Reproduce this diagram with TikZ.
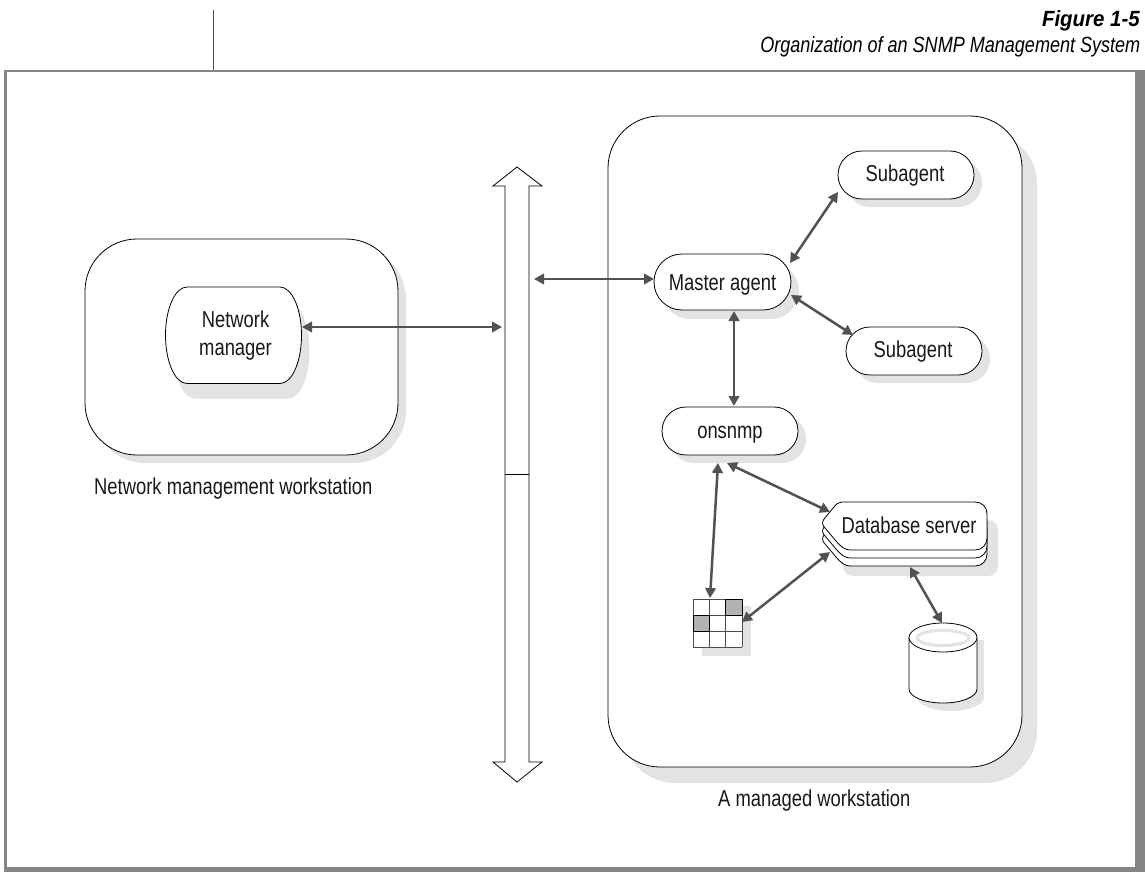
\documentclass[tikz,border=0pt]{standalone}
\usepackage{fontspec}
\setmainfont[FakeStretch=0.8]{Liberation Sans}
\newfontfamily\figfont[FakeStretch=0.93]{Liberation Sans}
\newfontfamily\titfont[FakeStretch=0.82]{Liberation Sans}
\usetikzlibrary{arrows.meta}
\definecolor{shadowc}{gray}{0.89}
\definecolor{linkc}{gray}{0.32}
\definecolor{framec}{gray}{0.52}
\definecolor{cellc}{gray}{0.7}
\tikzset{
  x=1pt,y=-1pt,
  outline/.style={draw=black,line width=0.8pt,fill=white},
  shadowfill/.style={fill=shadowc,draw=none},
  link/.style={draw=linkc,line width=2.5pt,{Triangle[length=10pt,width=10.5pt]}-{Triangle[length=10pt,width=10.5pt]}},
  lbl/.style={font=\fontsize{23}{28}\selectfont,inner sep=0pt,align=center,text=black!90,anchor=base},
  lblw/.style={lbl,anchor=base west},
}
\newcommand{\pill}[8]{% name,x0,y0,x1,y1,radius,shadow dx,dy
  \fill[shadowfill,rounded corners=#6pt] (#2+#7,#3+#8) rectangle (#4+#7,#5+#8);
  \draw[outline,rounded corners=#6pt] (#2,#3) rectangle (#4,#5);
  \coordinate (#1) at ({(#2+#4)/2},{(#3+#5)/2});
}
\newcommand{\blobpath}{(187,287) -- (280,287) .. controls (291.9,287) and (301.5,308.6) .. (301.5,335.25) .. controls (301.5,361.9) and (291.9,383.5) .. (280,383.5) -- (187,383.5) .. controls (175.1,383.5) and (165.5,361.9) .. (165.5,335.25) .. controls (165.5,308.6) and (175.1,287) .. (187,287) -- cycle}
\newcommand{\dblayer}[1]{(842,{502+#1}) -- (975,{502+#1}) .. controls (982,{502+#1}) and (987,{507+#1}) .. (987,{514+#1}) -- (987,{538+#1}) .. controls (987,{545+#1}) and (982,{550+#1}) .. (975,{550+#1}) -- (850,{550+#1}) .. controls (845,{550+#1}) and (840,{546+#1}) .. (836,{541+#1}) -- (825,{528+#1}) .. controls (822,{525+#1}) and (822,{522+#1}) .. (824,{519+#1}) -- (834,{507+#1}) .. controls (836,{504+#1}) and (839,{502+#1}) .. (842,{502+#1}) -- cycle}
\begin{document}
\begin{tikzpicture}
\useasboundingbox (0,0) rectangle (1145,872);
% frame
\fill[framec] (4.3,69.7) rectangle (1145,72.5);
\fill[framec] (4.3,69.7) rectangle (7.3,872);
\fill[framec] (1135,69.7) rectangle (1145,872);
\fill[framec] (4.3,867) rectangle (1145,872);
\coordinate (tickt) at (213.5,10);
\coordinate (tickb) at (213.5,70);
\draw[linkc,line width=1pt] (tickt) -- (tickb);
% caption
\node[anchor=base east,inner sep=0pt,font=\figfont\fontsize{22}{26}\selectfont\bfseries\itshape] (figno) at (1140,26.5) {Figure 1-5};
\node[anchor=base east,inner sep=0pt,font=\titfont\fontsize{22}{26}\selectfont\itshape] (figtitle) at (1140.5,52.5) {Organization of an SNMP Management System};
% big boxes
\pill{mgrbox}{85}{239}{398}{455}{52}{8}{8}
\pill{agentbox}{608}{116}{1022}{767}{52}{15}{16}
% bus arrow
\draw[outline] (505,186) -- (493,186) -- (517,167) -- (542,186) -- (529,186) -- (529,762) -- (542,762) -- (517,782) -- (493,762) -- (505,762) -- cycle;
\coordinate (busl) at (505,474);
\coordinate (busr) at (529,474);
\draw[draw=black,line width=0.8pt] (busl) -- (busr);
% nodes
\begin{scope}[shift={(8,15)}]
\fill[shadowfill] \blobpath;
\end{scope}
\draw[outline] \blobpath;
\node[lbl] (netmgrt) at (235.5,355) {Network\\manager};
\pill{master}{654}{254}{791}{310}{27.9}{8}{9}
\node[lbl] (mastert) at (722.5,290) {Master agent};
\pill{sub1}{838}{151}{974}{199}{23.9}{8}{8}
\node[lbl] (sub1t) at (905,181) {Subagent};
\pill{sub2}{846}{327}{982}{375}{23.9}{8}{8}
\node[lbl] (sub2t) at (913,357) {Subagent};
\pill{ons}{662}{407}{798}{455}{23.9}{8}{8}
\node[lbl] (onst) at (730,438) {onsnmp};
% database server stack
\fill[shadowfill,rounded corners=10pt] (843,520) -- (998,520) -- (998,576) -- (843,576) -- cycle;
\draw[outline] \dblayer{16};
\draw[outline] \dblayer{8};
\draw[outline] \dblayer{0};
\node[lbl] (dbt) at (909,533) {Database server};
% grid
\fill[shadowc] (702,606) rectangle (751,656);
\fill[white] (693,599) rectangle (742,647);
\fill[cellc] (725.7,599) rectangle (742,615);
\fill[cellc] (693,615) rectangle (709.3,631);
\foreach \xx in {693,709.3,725.7,742}{\draw[black!70,line width=0.8pt] (\xx,599) -- (\xx,647);}
\foreach \yy in {599,615,631,647}{\draw[black!70,line width=0.8pt] (693,\yy) -- (742,\yy);}
\draw[black,line width=0.9pt] (725.7,599) rectangle (742,615);
\draw[black,line width=0.9pt] (693,615) rectangle (709.3,631);
% disk
\fill[shadowc] (917,640) rectangle (984,697);
\fill[shadowc] (917,697) arc[start angle=180,end angle=360,x radius=33.5,y radius=-14];
\draw[outline] (909,637.5) -- (909,689) arc[start angle=180,end angle=360,x radius=34,y radius=-14] -- (977,637.5);
\draw[outline] (943,637.5) ellipse[x radius=34,y radius=14.5];
\draw[shadowc,line width=3pt] (943,638) ellipse[x radius=26,y radius=7.5];
% link ends
\coordinate (a1) at (302,327); \coordinate (a2) at (502,327);
\coordinate (b1) at (534,279); \coordinate (b2) at (654,279);
\coordinate (c1) at (790,263); \coordinate (c2) at (838,192);
\coordinate (d1) at (791,295); \coordinate (d2) at (853,335);
\coordinate (e1) at (734,311); \coordinate (e2) at (734,406);
\coordinate (f1) at (718,463); \coordinate (f2) at (710,598);
\coordinate (g1) at (727,463); \coordinate (g2) at (830,512);
\coordinate (h1) at (742,622); \coordinate (h2) at (830,552);
\coordinate (i1) at (910,567); \coordinate (i2) at (942,623);
\draw[link] (a1) -- (a2);
\draw[link] (b1) -- (b2);
\draw[link] (c1) -- (c2);
\draw[link] (d1) -- (d2);
\draw[link] (e1) -- (e2);
\draw[link] (f1) -- (f2);
\draw[link] (g1) -- (g2);
\draw[link] (h1) -- (h2);
\draw[link] (i1) -- (i2);
% captions
\node[lblw] (lblmgr) at (94,494.5) {Network management workstation};
\node[lblw] (lblagent) at (718,806) {A managed workstation};
\end{tikzpicture}
\end{document}
